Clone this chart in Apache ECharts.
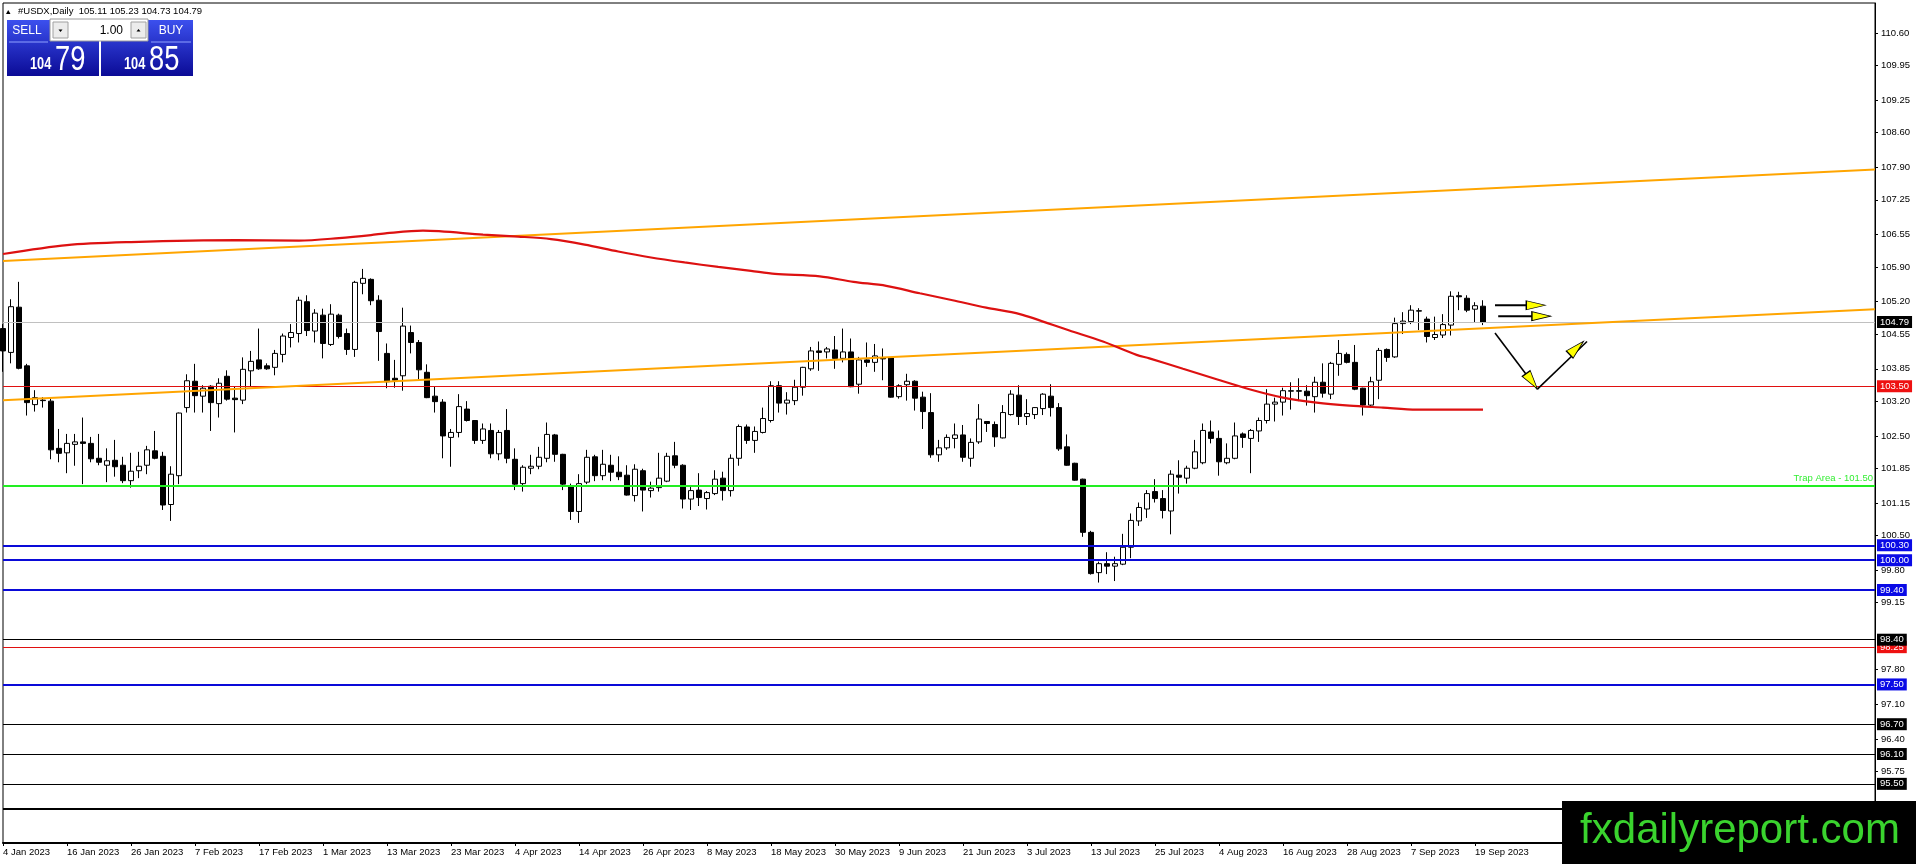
<!DOCTYPE html>
<html><head><meta charset="utf-8">
<script src="https://cdn.jsdelivr.net/npm/echarts@6/dist/echarts.min.js"></script>
<style>html,body{margin:0;padding:0;background:#fff;overflow:hidden}#c{width:1916px;height:864px}</style>
</head><body><div id="c"></div>
<script>
const FONT = '"Liberation Sans", Arial, sans-serif';
const tickLabels = ['4 Jan 2023','16 Jan 2023','26 Jan 2023','7 Feb 2023','17 Feb 2023','1 Mar 2023','13 Mar 2023','23 Mar 2023','4 Apr 2023','14 Apr 2023','26 Apr 2023','8 May 2023','18 May 2023','30 May 2023','9 Jun 2023','21 Jun 2023','3 Jul 2023','13 Jul 2023','25 Jul 2023','4 Aug 2023','16 Aug 2023','28 Aug 2023','7 Sep 2023','19 Sep 2023'];
const barsPerLabel = 8;
const slotCount = 235;
const yTicks = [110.60,109.95,109.25,108.60,107.90,107.25,106.55,105.90,105.20,104.55,103.85,103.20,102.50,101.85,101.15,100.50,99.80,99.15,97.80,97.10,96.40,95.75];

const openP = [104.66,104.18,105.09,103.91,103.13,103.22,103.20,102.25,102.16,102.33,
102.38,102.35,102.05,101.91,102.01,101.91,101.60,101.80,101.91,102.20,
102.09,101.12,101.70,103.07,103.60,103.30,103.50,103.15,103.70,103.26,
103.22,103.81,104.03,103.91,103.88,104.14,104.48,104.56,105.20,104.61,
104.93,104.34,104.93,104.56,104.24,105.57,105.65,105.23,104.16,103.66,
103.71,104.58,104.38,103.78,103.30,103.18,102.47,102.57,103.04,102.81,
102.41,102.61,102.14,102.61,102.03,101.54,101.85,101.89,102.05,102.52,
102.13,101.50,100.98,101.57,102.08,101.70,101.91,101.77,101.71,101.30,
101.80,101.40,101.46,101.59,102.10,101.91,101.23,101.41,101.24,101.34,
101.65,101.40,102.05,102.68,102.41,102.57,102.81,103.51,103.16,103.21,
103.48,103.85,104.21,104.19,104.23,104.06,104.19,103.54,104.03,103.98,
104.07,104.07,103.29,103.53,103.60,103.28,102.97,102.12,102.26,102.45,
102.52,102.05,102.38,102.79,102.73,102.46,102.93,103.32,102.89,102.93,
103.05,103.30,103.07,102.28,101.95,101.63,100.56,99.75,99.93,99.88,
99.92,100.26,100.79,101.03,101.38,101.24,100.99,101.71,101.65,101.85,
101.96,102.58,102.45,101.96,102.05,102.54,102.45,102.60,102.81,103.14,
103.18,103.40,103.41,103.40,103.29,103.58,103.34,103.94,104.14,103.98,
103.46,103.12,103.62,104.24,104.09,104.76,104.80,105.01,104.85,104.48,
104.53,104.73,105.32,105.27,105.05,105.11];
const highP = [104.75,105.25,105.60,103.95,103.42,103.28,103.26,102.64,102.54,102.54,
102.87,102.48,102.54,102.25,102.42,102.08,102.16,102.18,102.30,102.60,
102.18,101.89,102.97,103.74,103.95,103.52,103.52,103.66,103.82,103.49,
104.08,104.21,104.66,103.96,104.23,104.56,104.75,105.30,105.33,105.05,
105.06,105.15,104.96,104.66,105.62,105.86,105.67,105.33,104.36,104.03,
105.08,104.72,104.43,103.94,103.49,103.24,102.64,103.34,103.20,102.82,
102.75,102.75,102.62,103.04,102.25,101.91,102.12,102.28,102.77,102.54,
102.14,101.54,101.73,102.22,102.12,102.22,102.12,102.09,101.91,101.93,
101.84,101.58,102.16,102.16,102.38,101.93,101.51,101.75,101.39,101.81,
101.78,102.13,102.73,102.73,102.69,103.07,103.60,103.60,103.38,103.63,
103.89,104.29,104.40,104.29,104.51,104.66,104.46,104.09,104.38,104.35,
104.26,104.08,103.54,103.75,103.62,103.39,103.36,102.42,102.53,102.75,
102.72,102.45,103.14,102.80,102.79,103.12,103.42,103.52,103.24,103.08,
103.36,103.54,103.16,102.53,101.96,101.64,100.59,99.97,100.16,100.07,
100.53,100.94,101.16,101.41,101.63,101.41,101.81,102.01,101.90,102.42,
102.75,102.81,102.61,102.35,102.77,102.57,102.64,102.87,103.44,103.27,
103.47,103.58,103.66,103.52,103.69,103.96,103.99,104.43,104.18,104.33,
103.47,103.69,104.27,104.26,104.88,104.99,105.13,105.07,104.90,104.90,
104.95,105.41,105.40,105.33,105.19,105.23];
const lowP = [103.79,103.96,103.84,102.91,102.99,103.07,102.03,101.97,101.75,101.90,
101.53,101.97,101.91,101.57,101.68,101.55,101.46,101.65,101.73,102.03,
101.01,100.79,101.53,102.97,102.97,102.97,102.60,102.87,103.21,102.57,
103.14,103.50,103.83,103.83,103.72,103.98,104.28,104.38,104.51,104.38,
104.06,104.31,104.46,104.13,104.09,105.35,105.13,104.01,103.46,103.47,
103.41,104.16,103.64,103.26,102.97,102.05,101.88,102.47,102.79,102.34,
102.34,102.05,102.01,101.95,101.41,101.38,101.73,101.83,101.97,101.98,
101.41,100.81,100.75,101.53,101.59,101.61,101.59,101.61,101.30,101.18,
100.98,101.26,101.38,101.57,101.85,101.04,101.01,101.09,101.02,101.31,
101.20,101.28,101.90,102.34,102.16,102.55,102.77,102.97,102.93,103.12,
103.31,103.81,103.81,104.06,103.85,103.98,103.48,103.35,103.89,103.79,
103.62,103.27,103.25,103.21,103.01,102.64,102.06,101.98,102.22,102.25,
101.98,101.88,102.34,102.58,102.28,102.45,102.91,102.72,102.72,102.84,
102.92,102.89,102.20,101.90,101.60,100.47,99.71,99.55,99.72,99.58,
99.90,100.04,100.69,100.85,101.16,100.84,100.52,101.34,101.54,101.83,
101.93,102.35,101.70,101.93,102.03,102.26,101.75,102.38,102.75,102.79,
102.91,103.03,103.20,103.11,102.97,103.27,103.24,103.71,103.96,103.42,
102.91,103.07,103.24,103.99,104.07,104.55,104.75,104.63,104.38,104.43,
104.47,104.52,105.03,104.99,104.79,104.73];
const closeP = [104.21,105.10,103.86,103.17,103.27,103.21,102.22,102.15,102.35,102.38,
102.35,102.04,101.97,102.00,101.88,101.60,101.79,101.89,102.22,102.05,
101.11,101.73,102.96,103.61,103.31,103.46,103.17,103.56,103.24,103.23,
103.84,104.00,103.85,103.85,104.16,104.51,104.58,105.23,104.62,104.97,
104.36,104.95,104.50,104.24,105.59,105.67,105.22,104.60,103.59,103.62,
104.71,104.38,103.83,103.27,103.19,102.50,102.57,103.09,102.81,102.41,
102.64,102.14,102.57,102.05,101.53,101.87,101.89,102.07,102.53,102.13,
101.53,100.98,101.54,102.07,101.70,101.93,101.77,101.68,101.31,101.83,
101.41,101.45,101.65,102.09,101.91,101.23,101.40,101.26,101.36,101.63,
101.40,102.05,102.69,102.41,102.59,102.85,103.51,103.16,103.22,103.48,
103.88,104.21,104.18,104.25,104.06,104.19,103.49,104.03,103.98,104.11,
104.05,103.28,103.51,103.60,103.26,102.99,102.12,102.26,102.47,102.52,
102.07,102.37,102.84,102.75,102.48,102.97,103.34,102.89,102.95,103.07,
103.34,103.07,102.24,101.91,101.61,100.56,99.73,99.93,99.88,99.93,
100.26,100.80,101.06,101.34,101.24,101.00,101.73,101.67,101.85,102.18,
102.61,102.45,101.98,102.05,102.50,102.47,102.61,102.81,103.14,103.18,
103.41,103.41,103.40,103.31,103.58,103.36,103.96,104.16,103.98,103.44,
103.12,103.59,104.22,104.08,104.76,104.81,105.03,105.02,104.50,104.54,
104.74,105.31,105.30,105.03,105.12,104.79];

// moving average curve, read at bar positions
const maPoints = [[0,106.16],[8,106.34],[16,106.40],[29,106.44],[37,106.43],[42,106.48],[46,106.54],[48,106.58],[52.5,106.63],[60,106.55],[64.4,106.51],[68.5,106.46],[72.7,106.35],[76.9,106.21],[81,106.09],[85.2,105.99],[89.4,105.90],[93.5,105.82],[96.5,105.76],[102.1,105.71],[106.3,105.60],[110.4,105.52],[114.6,105.37],[118.7,105.23],[122.9,105.08],[127.1,104.95],[133.3,104.62],[137.5,104.40],[141.7,104.13],[143.3,104.06],[147.5,103.85],[151.7,103.64],[155.8,103.44],[160,103.27],[164.2,103.17],[168.3,103.11],[172.5,103.07],[176.7,103.03],[185,103.03]];
const channelUpper = [[0,106.02],[234,107.86]];
const channelLower = [[0,103.22],[234,105.05]];

const bidPrice = 104.79;
const redLevels = [103.50, 98.25];
const trapLevel = 101.50;
const blueLevels = [100.30, 100.00, 99.40, 97.50];
const blackLevels = [98.40, 96.70, 96.10, 95.50];
const baseLevel = 95.00;

const arrowShafts = [
  [[186.5,105.13],[191.0,105.13]],
  [[186.9,104.91],[191.5,104.91]],
  [[186.5,104.57],[191.8,103.44]],
  [[191.8,103.44],[198.0,104.40]]
];
const arrowHeads = [
  {at:[191.6,105.13], rot:-90},
  {at:[192.3,104.91], rot:-90},
  {at:[191.1,103.60], rot:-143.9},
  {at:[196.7,104.27], rot:-46.3}
];

const cats = [];
for (let i = 0; i < slotCount; i++) cats.push(String(i));
const lastLabelIdx = (tickLabels.length - 1) * barsPerLabel;
const showIdx = (i) => i % barsPerLabel === 0 && i <= lastLabelIdx;
const candles = openP.map((o, i) => [o, closeP[i], lowP[i], highP[i]]);

function boxLabel(bg, txt) {
  return {show:true, position:'end', distance:2, formatter:txt, color:'#fff', backgroundColor:bg,
    padding:[1,3,1,3], lineHeight:10, fontSize:9.5, fontFamily:FONT};
}
const mlData = [];
mlData.push({yAxis:bidPrice, lineStyle:{color:'#c0c0c0', width:1, type:'solid'}, label:boxLabel('#000', bidPrice.toFixed(2))});
mlData.push({yAxis:trapLevel, lineStyle:{color:'#22ee22', width:2, type:'solid'},
  label:{show:true, position:'insideEndTop', distance:2, formatter:'Trap Area - ' + trapLevel.toFixed(2), color:'#33ee33', fontSize:9.5, fontFamily:FONT}});
redLevels.forEach(v => mlData.push({yAxis:v, lineStyle:{color:'#e01010', width:1, type:'solid'}, label:boxLabel('#ee1111', v.toFixed(2))}));
blueLevels.forEach(v => mlData.push({yAxis:v, lineStyle:{color:'#0a0ad8', width:2, type:'solid'}, label:boxLabel('#0a0ae6', v.toFixed(2))}));
blackLevels.forEach(v => mlData.push({yAxis:v, lineStyle:{color:'#000', width:1, type:'solid'}, label:boxLabel('#000', v.toFixed(2))}));
mlData.push({yAxis:baseLevel, lineStyle:{color:'#000', width:2, type:'solid'}, label:{show:false}});

const blueGrad = {type:'linear', x:0, y:0, x2:0, y2:1, colorStops:[{offset:0, color:'#3c50ee'},{offset:1, color:'#0b0b96'}]};

const series = [
  {type:'candlestick', xAxisIndex:0, yAxisIndex:0, data:candles, barWidth:5, z:2,
   itemStyle:{color:'#fff', color0:'#000', borderColor:'#000', borderColor0:'#000', borderWidth:1},
   markLine:{silent:true, symbol:['none','none'], animation:false, z:3, data:mlData}},
  {type:'line', xAxisIndex:1, data:channelUpper, symbol:'none', lineStyle:{color:'#ffa500', width:2}, z:4, silent:true},
  {type:'line', xAxisIndex:1, data:channelLower, symbol:'none', lineStyle:{color:'#ffa500', width:2}, z:4, silent:true},
  {type:'line', xAxisIndex:1, data:maPoints, symbol:'none', smooth:0.3, lineStyle:{color:'#dd1111', width:2.2}, z:4, silent:true}
];
arrowShafts.forEach((s, i) => series.push({type:'line', xAxisIndex:1, data:s, symbol:'none', lineStyle:{color:'#000', width: i < 2 ? 2 : 1.6}, z:5, silent:true}));
series.push({type:'scatter', xAxisIndex:1, z:6, silent:true, symbol:'triangle',
  data: arrowHeads.map((h, i) => ({value:h.at, symbolRotate:h.rot, symbolSize: i < 2 ? [9,19] : [10,19]})),
  itemStyle:{color:'#ffff00', borderColor:'#000', borderWidth:1, opacity:1}});

const chart = echarts.init(document.getElementById('c'), null, {renderer:'canvas'});
chart.setOption({
  animation:false,
  backgroundColor:'#fff',
  grid:{left:3, right:41, top:3, bottom:21, show:true, borderColor:'#000', borderWidth:1, backgroundColor:'#fff', containLabel:false, outerBoundsMode:'none'},
  xAxis:[
    {type:'category', data:cats, boundaryGap:false,
     axisLine:{show:true, lineStyle:{color:'#000', width:2}},
     axisTick:{show:true, interval:(i)=>showIdx(i), length:3, lineStyle:{color:'#000'}},
     axisLabel:{show:true, interval:(i)=>showIdx(i), formatter:(v, i)=> showIdx(i) ? tickLabels[i / barsPerLabel] : '',
       align:'left', margin:4, color:'#000', fontSize:9.5, fontFamily:FONT, hideOverlap:false},
     splitLine:{show:false}},
    {type:'value', min:0, max:slotCount - 1, show:false}
  ],
  yAxis:{type:'value', position:'right', min:94.31, max:111.21, scale:true,
    axisLine:{show:true, onZero:false, lineStyle:{color:'#000', width:1}},
    axisTick:{show:true, length:3, lineStyle:{color:'#000'}, customValues:yTicks},
    axisLabel:{show:true, customValues:yTicks, formatter:(v)=>Number(v).toFixed(2), margin:6, color:'#000', fontSize:9.5, fontFamily:FONT},
    splitLine:{show:false}},
  series:series,
  graphic:[
    {type:'polygon', shape:{points:[[6,14],[10.5,14],[8.2,10]]}, style:{fill:'#000'}, z:100},
    {type:'text', x:18, y:11.5, z:100, style:{text:'#USDX,Daily  105.11 105.23 104.73 104.79', fontSize:9.5, fontFamily:FONT, fill:'#000', verticalAlign:'middle'}},
    {type:'rect', shape:{x:7, y:20, width:92, height:56}, style:{fill:blueGrad}, z:100},
    {type:'rect', shape:{x:101, y:20, width:92, height:56}, style:{fill:blueGrad}, z:100},
    {type:'line', shape:{x1:9, y1:42, x2:48, y2:42}, style:{stroke:'#8fa0ff', lineWidth:1}, z:101},
    {type:'line', shape:{x1:151, y1:42, x2:191, y2:42}, style:{stroke:'#8fa0ff', lineWidth:1}, z:101},
    {type:'rect', shape:{x:50, y:19, width:98, height:22}, style:{fill:'#fff', stroke:'#9a9a9a', lineWidth:1}, z:101},
    {type:'rect', shape:{x:53, y:22, width:15, height:16}, style:{fill:'#ececec', stroke:'#a0a0a0', lineWidth:1}, z:102},
    {type:'polygon', shape:{points:[[58.5,29.5],[62.5,29.5],[60.5,32]]}, style:{fill:'#000'}, z:103},
    {type:'rect', shape:{x:131, y:22, width:15, height:16}, style:{fill:'#ececec', stroke:'#a0a0a0', lineWidth:1}, z:102},
    {type:'polygon', shape:{points:[[136.5,31.5],[140.5,31.5],[138.5,29]]}, style:{fill:'#000'}, z:103},
    {type:'text', x:123, y:30.5, z:103, style:{text:'1.00', fontSize:12, fontFamily:FONT, fill:'#000', align:'right', verticalAlign:'middle'}},
    {type:'text', x:27, y:31, z:103, style:{text:'SELL', fontSize:12, fontFamily:FONT, fill:'#fff', align:'center', verticalAlign:'middle'}},
    {type:'text', x:171, y:31, z:103, style:{text:'BUY', fontSize:12, fontFamily:FONT, fill:'#fff', align:'center', verticalAlign:'middle'}},
    {type:'text', x:30, y:64.5, scaleX:0.8, z:103, style:{text:'104', fontSize:16, fontWeight:'bold', fontFamily:FONT, fill:'#fff', align:'left', verticalAlign:'middle'}},
    {type:'text', x:55, y:60, scaleX:0.78, z:103, style:{text:'79', fontSize:35, fontFamily:FONT, fill:'#fff', align:'left', verticalAlign:'middle'}},
    {type:'text', x:124, y:64.5, scaleX:0.8, z:103, style:{text:'104', fontSize:16, fontWeight:'bold', fontFamily:FONT, fill:'#fff', align:'left', verticalAlign:'middle'}},
    {type:'text', x:149, y:60, scaleX:0.78, z:103, style:{text:'85', fontSize:35, fontFamily:FONT, fill:'#fff', align:'left', verticalAlign:'middle'}},
    {type:'rect', shape:{x:1562, y:801, width:354, height:63}, style:{fill:'#000'}, z:200},
    {type:'text', x:1740, y:831, z:201, style:{text:'fxdailyreport.com', fontSize:42, fontFamily:FONT, fill:'#3ad32e', align:'center', verticalAlign:'middle'}}
  ]
});
</script></body></html>
